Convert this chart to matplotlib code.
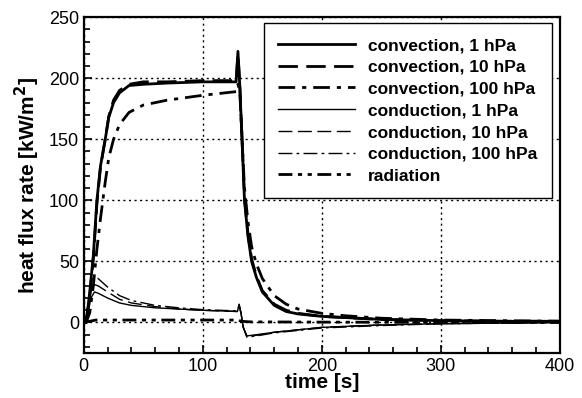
import matplotlib.pyplot as plt
from matplotlib.ticker import MultipleLocator

plt.rcParams['font.family'] = ['Liberation Sans', 'DejaVu Sans']

# convection time base [s]
t_conv = [0, 2, 5, 8, 11, 14, 18, 21, 25, 30, 38, 50, 70, 100, 128, 129.5, 131,
          135, 138, 141, 145, 150, 160, 170, 180, 200, 220, 250, 300, 350, 400]
conv_1 = [0, 0, 25, 55, 100, 128, 150, 168, 180, 188, 194, 195, 196, 197, 197, 222, 195,
          100, 70, 50, 37, 25, 14, 9, 7, 5, 4, 2.5, 1.5, 1, 1]
conv_10 = [0, 0, 22, 52, 97, 127, 150, 169, 182, 190, 195, 197, 197, 198, 198, 220, 196,
           102, 72, 52, 38, 26, 15, 10, 7.5, 5, 4, 2.5, 1.5, 1, 1]
conv_100 = [0, 0, 8, 30, 60, 85, 115, 135, 150, 162, 172, 178, 182, 186, 189, 195, 190,
            110, 82, 62, 48, 36, 22, 15, 11, 7.5, 5.5, 3.5, 2, 1.5, 1]

# conduction time base [s]
t_cond = [0, 3, 6, 9, 12, 20, 30, 40, 60, 80, 100, 129, 130.5, 132, 134, 137,
          145, 160, 180, 200, 250, 300, 350, 400]
cond_1 = [0, 5, 20, 25, 24, 20, 16, 14, 12, 11, 10, 9, 14, 8, -4, -11,
          -10, -8, -6, -4, -2, -1, -0.5, 0]
cond_10 = [0, 6, 25, 31, 30, 25, 19, 16, 13, 11, 10, 9, 14.5, 8, -4, -11.5,
           -10.5, -8, -6, -4, -2, -1, -0.5, 0]
cond_100 = [0, 8, 30, 37, 36, 29, 22, 18, 14, 12, 10.5, 9.5, 15, 8, -4, -12,
            -11, -8.5, -6.5, -4.5, -2.5, -1, -0.5, 0]

t_rad = [0, 5, 10, 30, 130, 132, 140, 200, 300, 400]
rad = [0, 1, 2, 2, 2, 1, 0.5, 0.3, 0.1, 0]

fig = plt.figure(figsize=(5.82, 3.98), dpi=100)
ax = fig.add_axes([0.144, 0.113, 0.818, 0.844])

ax.plot(t_conv, conv_1, color='black', lw=2.0, ls='-', label='convection, 1 hPa')
ax.plot(t_conv, conv_10, color='black', lw=2.0, ls=(0, (7, 3)), label='convection, 10 hPa')
ax.plot(t_conv, conv_100, color='black', lw=2.0, ls=(0, (6, 2.5, 1.5, 2.5)), label='convection, 100 hPa')
ax.plot(t_cond, cond_1, color='black', lw=1.0, ls='-', label='conduction, 1 hPa')
ax.plot(t_cond, cond_10, color='black', lw=1.0, ls=(0, (10, 4)), label='conduction, 10 hPa')
ax.plot(t_cond, cond_100, color='black', lw=1.0, ls=(0, (10, 3, 2, 3)), label='conduction, 100 hPa')
ax.plot(t_rad, rad, color='black', lw=2.0, ls=(0, (5, 2, 1.5, 2, 1.5, 2)), label='radiation')

ax.set_xlim(0, 400)
ax.set_ylim(-25, 250)
ax.xaxis.set_major_locator(MultipleLocator(100))
ax.xaxis.set_minor_locator(MultipleLocator(20))
ax.yaxis.set_major_locator(MultipleLocator(50))
ax.yaxis.set_minor_locator(MultipleLocator(10))
ax.tick_params(which='both', direction='in', labelsize=13, width=1.2)
ax.tick_params(which='major', length=6)
ax.tick_params(which='minor', length=4)
ax.grid(True, which='major', color='black', ls=(0, (1.5, 2.5)), lw=1.0)
for s in ax.spines.values():
    s.set_linewidth(1.6)

ax.set_xlabel('time [s]', fontsize=15, fontweight='bold', labelpad=-1)
ax.set_ylabel('heat flux rate [kW/m$^\\mathbf{2}$]', fontsize=15, fontweight='bold', labelpad=5)

leg = ax.legend(loc='upper right', bbox_to_anchor=(0.983, 0.982), borderaxespad=0,
                prop={'weight': 'bold', 'size': 12.5}, handlelength=4.4,
                fancybox=False, framealpha=1, edgecolor='black',
                borderpad=0.85, labelspacing=0.38, handletextpad=0.75)
leg.get_frame().set_linewidth(1.0)

fig.savefig('out.png', dpi=100)
